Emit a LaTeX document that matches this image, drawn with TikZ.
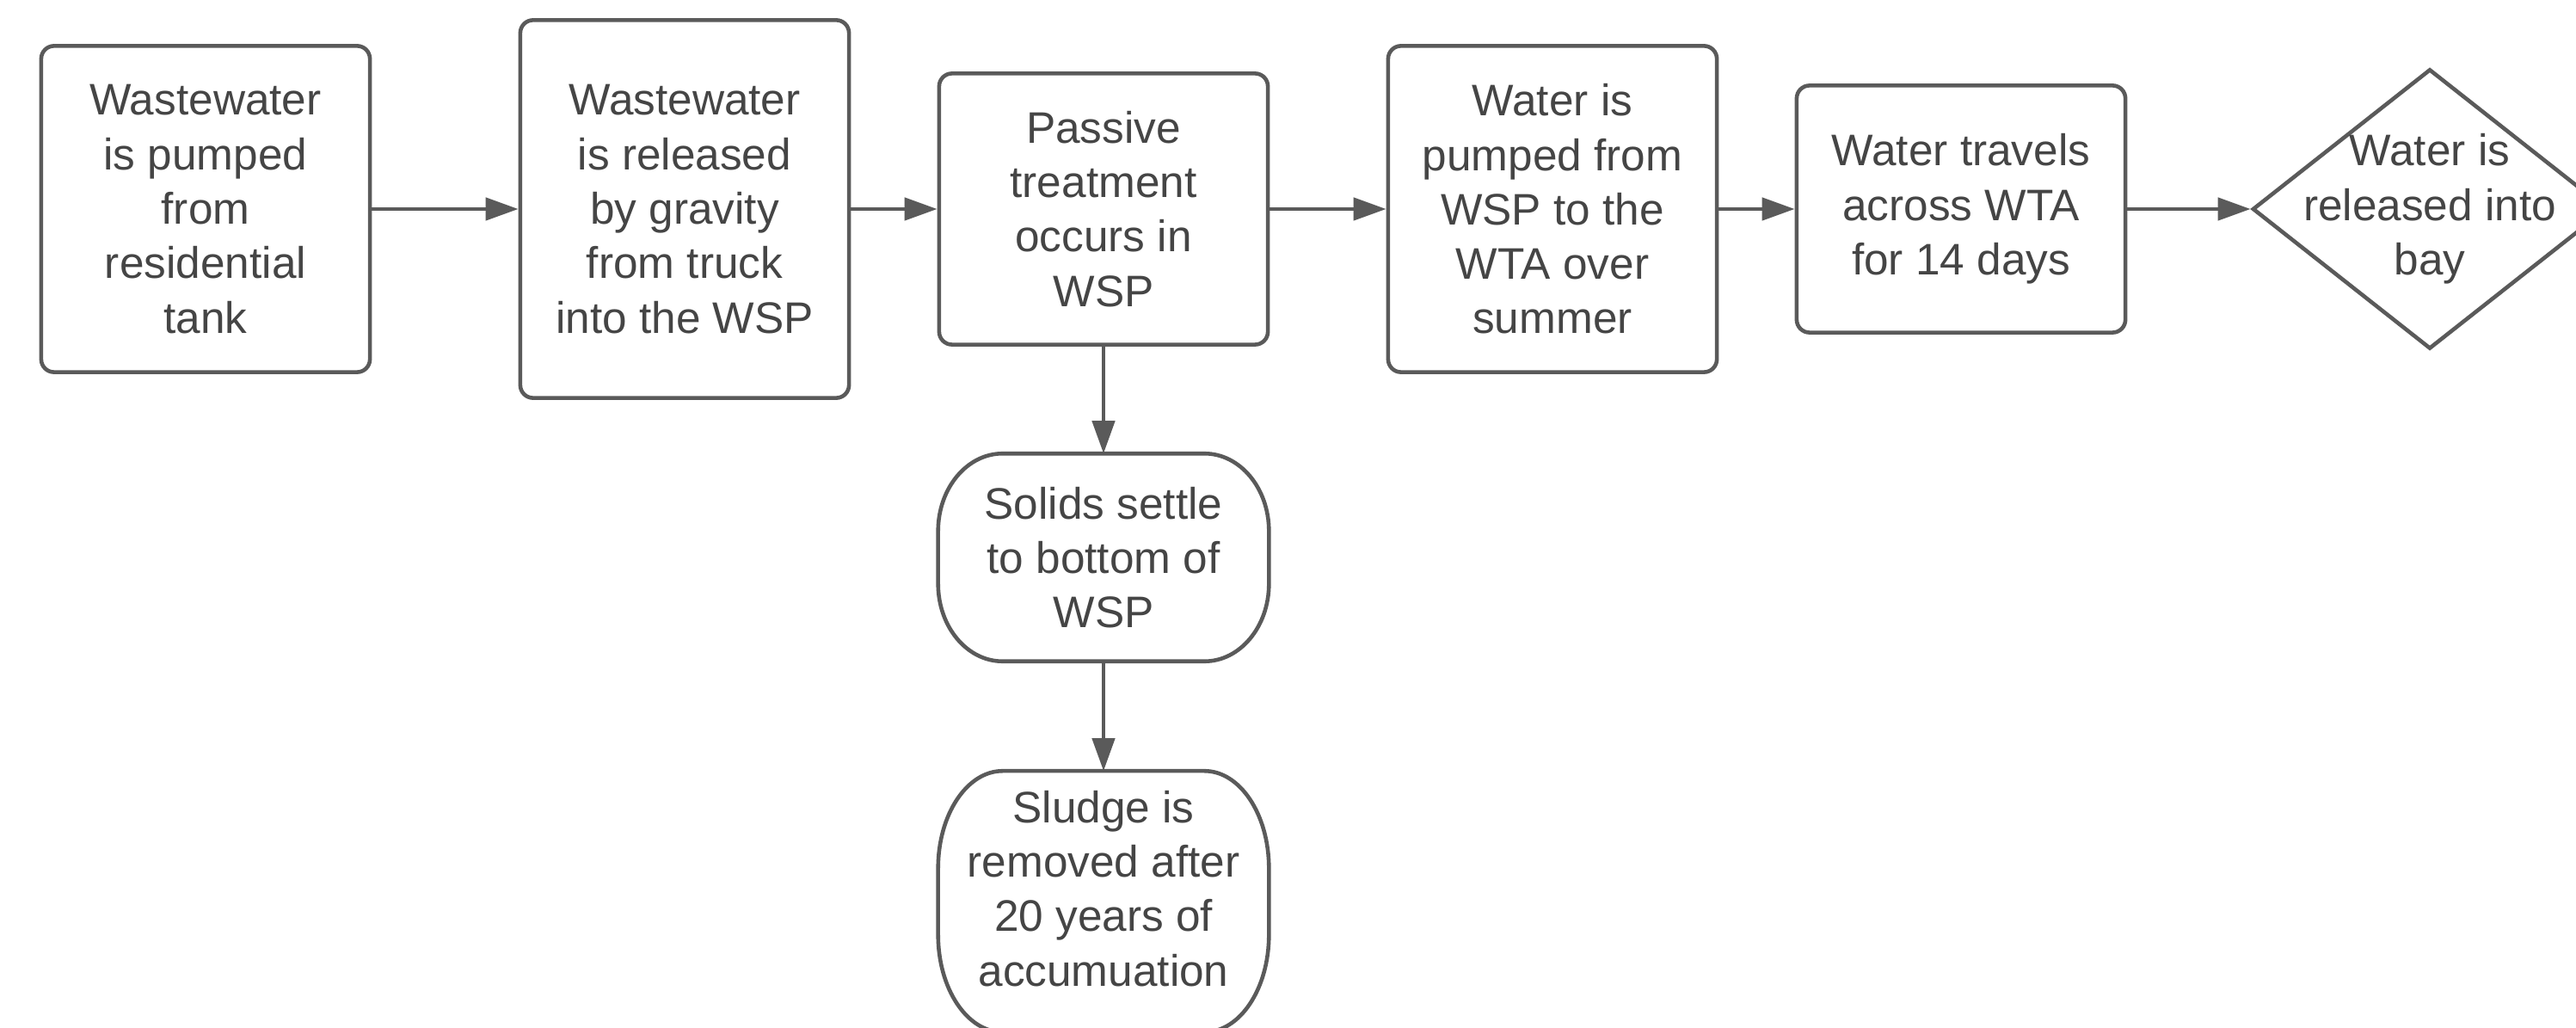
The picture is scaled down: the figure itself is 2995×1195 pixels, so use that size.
\documentclass[tikz,border=0pt]{standalone}
\usepackage{fontspec}
\setmainfont{Liberation Sans}
\usetikzlibrary{shapes.geometric,arrows.meta}
\definecolor{ln}{HTML}{5A5A5A}
\definecolor{tx}{HTML}{454545}
\newcommand\termoutline[3]{% node, x radius, y radius
  \draw[outl] ([xshift=-#2]#1.north east) arc[start angle=90,end angle=0,x radius=#2,y radius=#3]
    -- ([yshift=#3]#1.south east) arc[start angle=0,end angle=-90,x radius=#2,y radius=#3]
    -- ([xshift=#2]#1.south west) arc[start angle=-90,end angle=-180,x radius=#2,y radius=#3]
    -- ([yshift=-#3]#1.north west) arc[start angle=180,end angle=90,x radius=#2,y radius=#3]
    -- cycle;}
\begin{document}
\begin{tikzpicture}[x=0.01cm,y=-0.01cm,
  txt/.style={text=tx, font=\fontsize{14.6}{18}\selectfont, align=center},
  outl/.style={draw=ln, line width=1.3pt},
  proc/.style={txt, outl, rounded corners=0.15cm, fill=white, inner sep=0pt, minimum width=3.82cm},
  term/.style={txt, inner sep=0pt, minimum width=3.83cm},
  arr/.style={draw=ln, line width=1.3pt, -{Triangle[length=0.38cm,width=0.26cm]}}]
\useasboundingbox[fill=white] (0,0) rectangle (2995,1195);
\node[proc, minimum height=3.79cm] (b1) at (239,243) {Wastewater\\is pumped\\from\\residential\\tank};
\node[proc, minimum height=4.39cm] (b2) at (796,243) {Wastewater\\is released\\by gravity\\from truck\\into the WSP};
\node[proc, minimum height=3.15cm] (b3) at (1283,243) {Passive\\treatment\\occurs in\\WSP};
\node[proc, minimum height=3.79cm] (b4) at (1805,243) {Water is\\pumped from\\WSP to the\\WTA over\\summer};
\node[proc, minimum height=2.87cm] (b5) at (2280,243) {Water travels\\across WTA\\for 14 days};
\node[diamond, outl, fill=white, inner sep=0pt, minimum width=4.12cm, minimum height=3.25cm,
  label={[txt]center:Water is\\released into\\bay}] (d) at (2825,243) {};
\node[term, minimum height=2.4cm] (s1) at (1283,648) {Solids settle\\to bottom of\\WSP};
\termoutline{s1}{0.75cm}{0.9cm}
\node[term, minimum height=3.02cm, label={[txt,yshift=0.15cm]center:Sludge is\\removed after\\20 years of\\accumuation}] (s2) at (1283,1048) {};
\termoutline{s2}{0.75cm}{1.13cm}
\draw[arr] (b1) -- (b2);
\draw[arr] (b2) -- (b3);
\draw[arr] (b3) -- (b4);
\draw[arr] (b4) -- (b5);
\draw[arr] (b5) -- (d);
\draw[arr] (b3) -- (s1);
\draw[arr] (s1) -- (s2);
\end{tikzpicture}
\end{document}
